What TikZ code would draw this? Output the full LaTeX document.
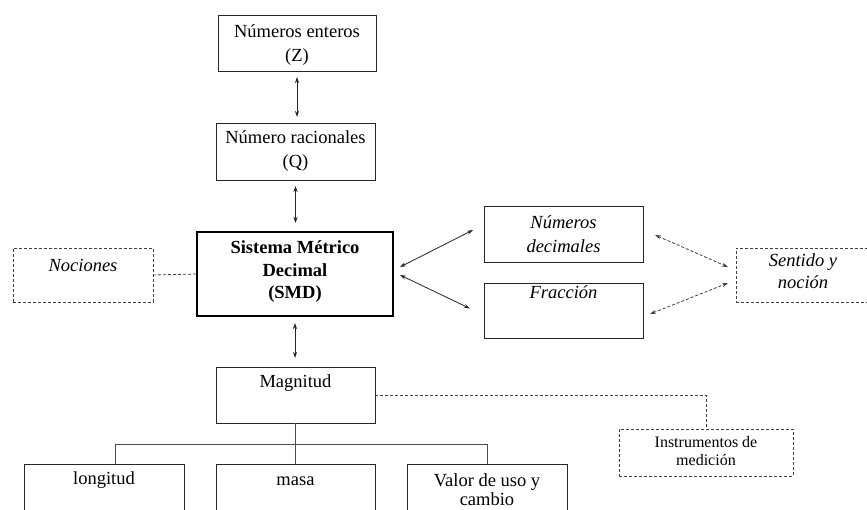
\documentclass[tikz,border=0pt]{standalone}
\usepackage{fontspec}
\setmainfont{Liberation Serif}
\usetikzlibrary{arrows.meta}
\begin{document}
\begin{tikzpicture}[x=1pt,y=-1pt,
  box/.style={draw=black!85, line width=0.8pt, inner sep=0pt, outer sep=0pt},
  thickbox/.style={draw=black, line width=1.6pt, inner sep=0pt, outer sep=0pt},
  dbox/.style={draw=black!75, line width=0.8pt, dash pattern=on 3pt off 2pt, inner sep=0pt, outer sep=0pt},
  txt/.style={align=center, inner sep=0pt, font=\fontsize{18.5}{24}\selectfont},
  conn/.style={draw=black!85, line width=0.8pt},
  dbl/.style={conn, {Stealth[length=6pt,width=4pt]}-{Stealth[length=6pt,width=4pt]}},
  ddbl/.style={dbl, dash pattern=on 3pt off 2pt, draw=black!75},
  dline/.style={conn, dash pattern=on 3pt off 2pt, draw=black!75},
  tree/.style={draw=black!70, line width=0.8pt}
]
\useasboundingbox (0,0) rectangle (867,510);
\fill[white] (0,0) rectangle (867,510);

% boxes
\node[box, minimum width=158, minimum height=56] (ent) at (297,43) {};
\node[box, minimum width=159, minimum height=57] (rac) at (295.5,151.5) {};
\node[thickbox, minimum width=196, minimum height=84] (smd) at (295,274) {};
\node[dbox, minimum width=140, minimum height=54] (noc) at (83,275) {};
\node[box, minimum width=159, minimum height=56] (dec) at (563.5,234) {};
\node[box, minimum width=159, minimum height=55] (fra) at (563.5,310.5) {};
\node[dbox, minimum width=134, minimum height=54] (sen) at (803,275) {};
\node[box, minimum width=159, minimum height=56] (mag) at (295.5,395) {};
\node[dbox, minimum width=174, minimum height=47] (ins) at (706,452.5) {};
\node[box, minimum width=160, minimum height=56] (lon) at (104,492) {};
\node[box, minimum width=159, minimum height=56] (mas) at (295.5,492) {};
\node[box, minimum width=160, minimum height=56] (val) at (487,492) {};

% texts
\node[txt] (entT) at (297,45) {Números enteros\\(Z)};
\node[txt] (racT) at (295.5,151.5) {Número racionales\\(Q)};
\node[txt, font=\fontsize{18.5}{22.5}\selectfont\bfseries] (smdT) at (295,272) {Sistema Métrico\\Decimal\\(SMD)};
\node[txt, font=\fontsize{18.5}{24}\selectfont\itshape] (nocT) at (83,265) {Nociones};
\node[txt, font=\fontsize{18.5}{24}\selectfont\itshape] (decT) at (563.5,234) {Números\\decimales};
\node[txt, font=\fontsize{18.5}{24}\selectfont\itshape] (fraT) at (563.5,292) {Fracción};
\node[txt, font=\fontsize{18.5}{22}\selectfont\itshape] (senT) at (803,271) {Sentido y\\noción};
\node[txt] (magT) at (295.5,383) {Magnitud};
\node[txt, font=\fontsize{16}{17.5}\selectfont] (insT) at (706,451) {Instrumentos de\\medición};
\node[txt] (lonT) at (104,480) {longitud};
\node[txt] (masT) at (295.5,481) {masa};
\node[txt, font=\fontsize{18.5}{19.5}\selectfont] (valT) at (487,489.5) {Valor de uso y\\cambio};

% vertical arrows
\draw[dbl, shorten <=6pt, shorten >=6pt] (ent.south) -- (ent.south |- rac.north);
\draw[dbl, shorten <=6pt, shorten >=9pt] (rac.south) -- (rac.south |- smd.north);
\draw[dbl, shorten <=7pt, shorten >=9pt] (smd.south) -- (smd.south |- mag.north);

% right arrows
\draw[dbl] ([shift={(7,-7)}]smd.east) -- ([shift={(-11,-4)}]dec.west);
\draw[dbl] ([shift={(7,1)}]smd.east) -- ([shift={(-14,-2)}]fra.west);
\draw[ddbl] ([shift={(12,1)}]dec.east) -- ([shift={(-8,-8)}]sen.west);
\draw[ddbl] ([shift={(7,3.5)}]fra.east) -- ([shift={(-8,8)}]sen.west);

% dashed links
\draw[dline] (noc.east) -- (smd.west);
\draw[dline] (mag.east) -| (ins.north);

% tree
\draw[tree] (mag.south) -- (mas.north);
\draw[tree] ([shift={(11,0)}]lon.north) |- ([shift={(0,-20)}]val.north) -- (val.north);
\end{tikzpicture}
\end{document}
